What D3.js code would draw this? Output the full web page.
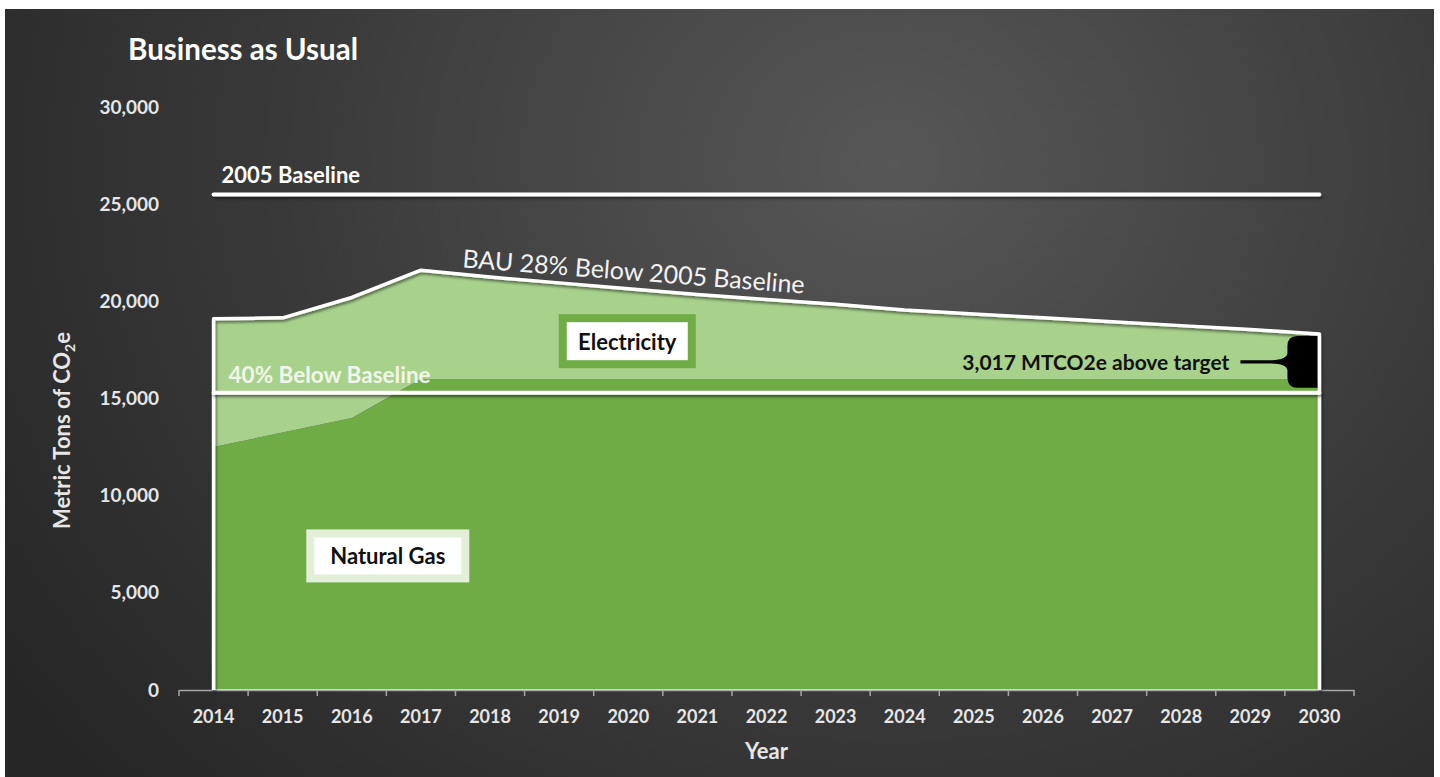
<!DOCTYPE html>
<html>
<head>
<meta charset="utf-8">
<script src="https://cdn.jsdelivr.net/npm/d3@7"></script>
<style>
	html, body { margin: 0; padding: 0; background: #ffffff; }
	svg { display: block; font-family: Lato, "Open Sans", sans-serif; }
</style>
</head>
<body>
<div id="chart"></div>
<script>
var years = ["2014", "2015", "2016", "2017", "2018", "2019", "2020", "2021", "2022",
	"2023", "2024", "2025", "2026", "2027", "2028", "2029", "2030"];
var naturalGas = [12500, 13250, 14000, 16000, 16000, 16000, 16000, 16000, 16000,
	16000, 16000, 16000, 16000, 16000, 16000, 16000, 16000];
var electricity = [6600, 5900, 6200, 5600, 5250, 4950, 4650, 4350, 4100,
	3850, 3550, 3350, 3150, 2950, 2750, 2550, 2320];
var yTicks = [0, 5000, 10000, 15000, 20000, 25000, 30000];
var baseline2005 = 25500;
var target40 = 15300;
var aboveTarget = "3,017 MTCO2e above target";

var Chart = (function () {
	var width = 1440, height = 777;

	function Chart(elementId) {
		this.svg = d3.select("#" + elementId).append("svg")
			.attr("width", width)
			.attr("height", height);
	}

	Chart.prototype.draw = function () {
		var svg = this.svg;
		var defs = svg.append("defs");

		var grad = defs.append("radialGradient")
			.attr("id", "bg")
			.attr("cx", "0.62").attr("cy", "0.2").attr("r", "0.75")
			.attr("gradientTransform", "translate(0.62,0.2) scale(1,1.6) translate(-0.62,-0.2)");
		grad.append("stop").attr("offset", "0").attr("stop-color", "#575757");
		grad.append("stop").attr("offset", "0.55").attr("stop-color", "#3a3a3a");
		grad.append("stop").attr("offset", "1").attr("stop-color", "#262626");

		// user space region so that flat lines (zero-height bbox) still render
		var shadow = defs.append("filter").attr("id", "shadow")
			.attr("filterUnits", "userSpaceOnUse")
			.attr("x", 0).attr("y", 0).attr("width", width).attr("height", height);
		shadow.append("feDropShadow")
			.attr("dx", 1).attr("dy", 2).attr("stdDeviation", 1.5)
			.attr("flood-color", "#000").attr("flood-opacity", 0.55);

		svg.append("rect")
			.attr("x", 5).attr("y", 9)
			.attr("width", 1429).attr("height", 768)
			.attr("fill", "url(#bg)");

		var x = d3.scaleBand().domain(years).range([179, 1354]);
		var y = d3.scaleLinear().domain([0, 30000]).range([690, 107]);
		function cx(d) { return x(d) + x.bandwidth() / 2; }

		var rows = years.map(function (yr, i) {
			return { year: yr, gas: naturalGas[i], elec: electricity[i] };
		});
		var series = d3.stack().keys(["gas", "elec"])(rows);
		var colors = { gas: "#6fac46", elec: "#a8d18c" };

		var area = d3.area()
			.x(function (d) { return cx(d.data.year); })
			.y0(function (d) { return y(d[0]); })
			.y1(function (d) { return y(d[1]); });

		svg.append("g")
			.selectAll("path")
			.data(series)
			.enter()
				.append("path")
					.attr("d", area)
					.attr("fill", function (s) { return colors[s.key]; });

		// light base line under the areas
		svg.append("line")
			.attr("x1", cx(years[0])).attr("x2", cx(years[years.length - 1]))
			.attr("y1", y(0)).attr("y2", y(0))
			.attr("stroke", "#dcebd0").attr("stroke-width", 2);

		// x axis: line and ticks between categories
		var xAxis = svg.append("g")
			.attr("transform", "translate(0," + y(0) + ")")
			.call(d3.axisBottom(x).tickSize(0).tickPadding(20));
		xAxis.select(".domain").attr("stroke", "#a6a6a6").attr("stroke-width", 1.5);
		xAxis.selectAll("text")
			.attr("fill", "#e6e6e6")
			.attr("font-family", "Lato, sans-serif")
			.attr("font-weight", "bold")
			.attr("font-size", 18);
		xAxis.selectAll("line.sep")
			.data(years.map(function (d) { return x(d); }).concat([x.range()[1]]))
			.enter()
				.append("line")
					.attr("class", "sep")
					.attr("x1", function (d) { return d; })
					.attr("x2", function (d) { return d; })
					.attr("y1", 0).attr("y2", 6)
					.attr("stroke", "#a6a6a6").attr("stroke-width", 1.5);

		var yAxis = svg.append("g")
			.attr("transform", "translate(" + x.range()[0] + ",0)")
			.call(d3.axisLeft(y).tickValues(yTicks).tickFormat(d3.format(",")).tickSize(0).tickPadding(20));
		yAxis.select(".domain").remove();
		yAxis.selectAll("text")
			.attr("fill", "#e6e6e6")
			.attr("font-family", "Lato, sans-serif")
			.attr("font-weight", "bold")
			.attr("font-size", 19);

		// white outline around the stacked total
		var top = series[series.length - 1];
		var outline = d3.line()
			.x(function (d) { return d[0]; })
			.y(function (d) { return d[1]; });
		var pts = [[cx(years[0]), y(0)]]
			.concat(top.map(function (d) { return [cx(d.data.year), y(d[1])]; }))
			.concat([[cx(years[years.length - 1]), y(0)]]);
		svg.append("path")
			.attr("d", outline(pts))
			.attr("fill", "none")
			.attr("stroke", "#ffffff")
			.attr("stroke-width", 3.5)
			.attr("stroke-linejoin", "round")
			.attr("filter", "url(#shadow)");

		// reference lines
		[baseline2005, target40].forEach(function (v) {
			svg.append("line")
				.attr("x1", cx(years[0])).attr("x2", cx(years[years.length - 1]))
				.attr("y1", y(v)).attr("y2", y(v))
				.attr("stroke", "#ffffff")
				.attr("stroke-width", 4)
				.attr("stroke-linecap", "round")
				.attr("filter", "url(#shadow)");
		});

		svg.append("text")
			.attr("x", cx(years[0]) + 8).attr("y", y(baseline2005) - 11)
			.attr("fill", "#ffffff").attr("font-weight", "bold").attr("font-size", 22)
			.text("2005 Baseline");

		svg.append("text")
			.attr("x", cx(years[0]) + 15).attr("y", y(target40) - 10)
			.attr("fill", "#f0f7ea").attr("font-weight", "bold").attr("font-size", 22.5)
			.text("40% Below Baseline");

		// rotated BAU label along the top of the area
		svg.append("text")
			.attr("transform", "translate(" + (cx(years[3]) + 41) + "," + (y(top[3][1]) - 3) + ") rotate(4.4)")
			.attr("fill", "#f2f2f2").attr("font-size", 25)
			.text("BAU 28% Below 2005 Baseline");

		// boxed series labels
		function boxLabel(cxPos, cyPos, w, h, border, borderW, label) {
			var g = svg.append("g");
			g.append("rect")
				.attr("x", cxPos - w / 2 - borderW).attr("y", cyPos - h / 2 - borderW)
				.attr("width", w + 2 * borderW).attr("height", h + 2 * borderW)
				.attr("fill", border);
			g.append("rect")
				.attr("x", cxPos - w / 2).attr("y", cyPos - h / 2)
				.attr("width", w).attr("height", h)
				.attr("fill", "#ffffff");
			g.append("text")
				.attr("x", cxPos).attr("y", cyPos)
				.attr("text-anchor", "middle").attr("dominant-baseline", "central")
				.attr("fill", "#111111").attr("font-weight", "bold").attr("font-size", 22)
				.text(label);
		}
		boxLabel(cx("2020") - 1, y(17950), 121, 38, "#6fac46", 8, "Electricity");
		boxLabel(cx("2016") + 36, y(6900), 147, 37, "#e2efd9", 8, "Natural Gas");

		// gap-to-target brace
		var last = top[top.length - 1];
		var xr = cx(last.data.year) - 2;
		var yt = y(last[1]) + 2;
		var yb = y(target40) - 5;
		var xl = xr - 30;
		var ym = (yt + yb) / 2;
		var brace = d3.path();
		brace.moveTo(xr, yt);
		brace.lineTo(xl + 10, yt);
		brace.quadraticCurveTo(xl, yt, xl, yt + 10);
		brace.lineTo(xl, ym - 9);
		brace.quadraticCurveTo(xl, ym - 2, xl - 16, ym - 1.6);
		brace.lineTo(xl - 47, ym - 1.6);
		brace.lineTo(xl - 47, ym + 1.6);
		brace.lineTo(xl - 16, ym + 1.6);
		brace.quadraticCurveTo(xl, ym + 2, xl, ym + 9);
		brace.lineTo(xl, yb - 10);
		brace.quadraticCurveTo(xl, yb, xl + 10, yb);
		brace.lineTo(xr, yb);
		brace.closePath();
		svg.append("path").attr("d", brace.toString()).attr("fill", "#000000");

		svg.append("text")
			.attr("x", xl - 58).attr("y", ym)
			.attr("text-anchor", "end").attr("dominant-baseline", "central")
			.attr("fill", "#111111").attr("font-weight", "bold").attr("font-size", 21)
			.text(aboveTarget);

		// titles
		svg.append("text")
			.attr("x", 128).attr("y", 60)
			.attr("fill", "#ffffff").attr("font-weight", "bold").attr("font-size", 29.5)
			.text("Business as Usual");

		svg.append("text")
			.attr("x", (x.range()[0] + x.range()[1]) / 2).attr("y", 759)
			.attr("text-anchor", "middle")
			.attr("fill", "#e6e6e6").attr("font-weight", "bold").attr("font-size", 22)
			.text("Year");

		var yTitle = svg.append("text")
			.attr("transform", "translate(70," + ((y(0) + y(30000)) / 2 + 32) + ") rotate(-90)")
			.attr("text-anchor", "middle")
			.attr("fill", "#e6e6e6").attr("font-weight", "bold").attr("font-size", 22);
		yTitle.append("tspan").text("Metric Tons of CO");
		yTitle.append("tspan").attr("font-size", 14).attr("dy", 5).text("2");
		yTitle.append("tspan").attr("dy", -5).text("e");
	};

	return Chart;
})();

new Chart("chart").draw();
</script>
</body>
</html>
